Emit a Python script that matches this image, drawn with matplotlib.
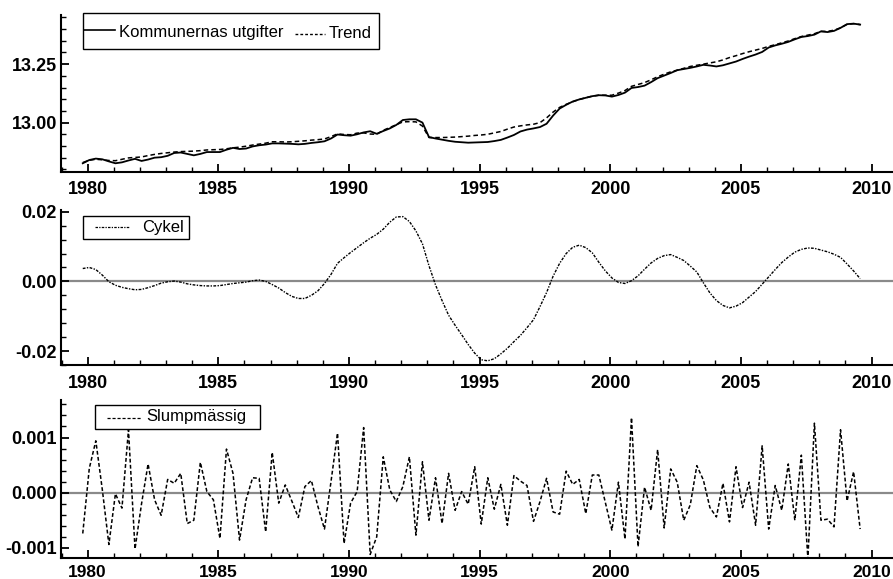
import numpy as np
import matplotlib
matplotlib.use("Agg")
import matplotlib.pyplot as plt
from matplotlib.ticker import MultipleLocator, FixedLocator, FixedFormatter
from matplotlib.patches import Rectangle
from matplotlib.lines import Line2D

plt.rcParams['font.family'] = ['Liberation Sans', 'DejaVu Sans']
plt.rcParams['axes.unicode_minus'] = False

# kvartalsdata 1980-2009, avlasta fran bilden
forsta_obs = 1979.8125

utgifter = [12.826, 12.840, 12.846, 12.843, 12.834, 12.826, 12.830, 12.838, 12.845, 12.836,
            12.842, 12.850, 12.852, 12.858, 12.870, 12.872, 12.866, 12.860, 12.866, 12.874,
            12.874, 12.874, 12.884, 12.892, 12.887, 12.889, 12.898, 12.903, 12.906, 12.911,
            12.911, 12.910, 12.909, 12.907, 12.909, 12.913, 12.916, 12.920, 12.932, 12.949,
            12.946, 12.944, 12.950, 12.958, 12.963, 12.952, 12.964, 12.975, 12.990, 13.011,
            13.014, 13.014, 13.000, 12.938, 12.932, 12.927, 12.922, 12.918, 12.916, 12.914,
            12.915, 12.916, 12.917, 12.921, 12.926, 12.936, 12.947, 12.962, 12.970, 12.975,
            12.981, 12.995, 13.030, 13.060, 13.076, 13.090, 13.099, 13.106, 13.113, 13.117,
            13.116, 13.111, 13.118, 13.128, 13.148, 13.152, 13.158, 13.173, 13.190, 13.201,
            13.212, 13.224, 13.229, 13.234, 13.240, 13.247, 13.244, 13.240, 13.245, 13.253,
            13.261, 13.272, 13.282, 13.291, 13.302, 13.321, 13.330, 13.337, 13.345, 13.356,
            13.366, 13.370, 13.376, 13.390, 13.387, 13.392, 13.405, 13.421, 13.423, 13.419]

trend = [12.829, 12.839, 12.843, 12.841, 12.838, 12.837, 12.843, 12.849, 12.851, 12.853,
         12.859, 12.864, 12.868, 12.871, 12.874, 12.876, 12.877, 12.878, 12.880, 12.883,
         12.884, 12.885, 12.888, 12.892, 12.895, 12.899, 12.904, 12.908, 12.912, 12.918,
         12.918, 12.917, 12.918, 12.920, 12.922, 12.925, 12.927, 12.930, 12.940, 12.952,
         12.949, 12.948, 12.955, 12.956, 12.951, 12.950, 12.967, 12.979, 12.991, 13.003,
         13.004, 13.003, 12.985, 12.936, 12.936, 12.936, 12.937, 12.938, 12.940, 12.942,
         12.945, 12.947, 12.950, 12.956, 12.962, 12.972, 12.981, 12.986, 12.990, 12.993,
         13.000, 13.020, 13.045, 13.065, 13.078, 13.089, 13.099, 13.106, 13.113, 13.117,
         13.117, 13.117, 13.126, 13.137, 13.155, 13.163, 13.171, 13.183, 13.196, 13.207,
         13.217, 13.224, 13.232, 13.240, 13.245, 13.250, 13.255, 13.260, 13.268, 13.278,
         13.286, 13.295, 13.303, 13.310, 13.317, 13.326, 13.333, 13.341, 13.349, 13.359,
         13.368, 13.374, 13.380, 13.390, 13.390, 13.395, 13.405, 13.420, 13.423, 13.419]

cykel = [0.0037, 0.0040, 0.0034, 0.0018, -0.0001, -0.0011, -0.0017, -0.0021, -0.0024, -0.0023,
         -0.0018, -0.0012, -0.0005, -0.0001, 0.0001, -0.0002, -0.0007, -0.0010, -0.0012, -0.0013,
         -0.0013, -0.0012, -0.0009, -0.0006, -0.0004, -0.0002, 0.0002, 0.0004, 0.0000, -0.0009,
         -0.0019, -0.0032, -0.0043, -0.0049, -0.0049, -0.0040, -0.0027, -0.0006, 0.0020, 0.0052,
         0.0068, 0.0083, 0.0097, 0.0111, 0.0124, 0.0135, 0.0150, 0.0170, 0.0185, 0.0186,
         0.0172, 0.0145, 0.0108, 0.0045, -0.0010, -0.0055, -0.0097, -0.0126, -0.0153, -0.0181,
         -0.0206, -0.0225, -0.0228, -0.0222, -0.0208, -0.0192, -0.0173, -0.0155, -0.0133, -0.0110,
         -0.0072, -0.0032, 0.0015, 0.0052, 0.0080, 0.0098, 0.0104, 0.0097, 0.0082, 0.0055,
         0.0030, 0.0010, -0.0003, -0.0006, 0.0002, 0.0016, 0.0035, 0.0053, 0.0066, 0.0074,
         0.0077, 0.0069, 0.0060, 0.0044, 0.0027, -0.0004, -0.0033, -0.0055, -0.0069, -0.0076,
         -0.0071, -0.0061, -0.0045, -0.0029, -0.0008, 0.0013, 0.0034, 0.0054, 0.0070, 0.0084,
         0.0092, 0.0096, 0.0095, 0.0090, 0.0085, 0.0078, 0.0069, 0.0050, 0.0030, 0.0008]

slump = [-0.00074, 0.00044, 0.00094, 0.00005, -0.00094, -0.00002, -0.00028, 0.00114, -0.00102, -0.00020,
         0.00052, -0.00013, -0.00041, 0.00024, 0.00017, 0.00035, -0.00056, -0.00050, 0.00055, 0.00002,
         -0.00013, -0.00083, 0.00079, 0.00035, -0.00086, -0.00013, 0.00027, 0.00026, -0.00071, 0.00073,
         -0.00019, 0.00014, -0.00015, -0.00045, 0.00011, 0.00022, -0.00025, -0.00066, 0.00020, 0.00108,
         -0.00092, -0.00019, 0.00002, 0.00118, -0.00112, -0.00080, 0.00065, 0.00005, -0.00016, 0.00011,
         0.00065, -0.00077, 0.00056, -0.00050, 0.00027, -0.00056, 0.00035, -0.00032, 0.00002, -0.00021,
         0.00047, -0.00057, 0.00027, -0.00030, 0.00015, -0.00059, 0.00031, 0.00021, 0.00013, -0.00052,
         -0.00016, 0.00026, -0.00035, -0.00039, 0.00039, 0.00015, 0.00024, -0.00038, 0.00032, 0.00032,
         -0.00018, -0.00068, 0.00019, -0.00084, 0.00136, -0.00098, 0.00010, -0.00032, 0.00078, -0.00064,
         0.00043, 0.00019, -0.00050, -0.00022, 0.00049, 0.00023, -0.00027, -0.00044, 0.00017, -0.00053,
         0.00047, -0.00027, 0.00019, -0.00059, 0.00085, -0.00066, 0.00013, -0.00032, 0.00052, -0.00050,
         0.00068, -0.00120, 0.00126, -0.00050, -0.00048, -0.00062, 0.00114, -0.00015, 0.00038, -0.00066]

t = forsta_obs + np.arange(len(utgifter)) / 4.0

W, H = 893, 579
fig = plt.figure(figsize=(W / 100, H / 100), dpi=100)

def px_axes(top, bottom, left=61, right=893):
    # pixelkanter (y fran toppen) -> figurkoordinater
    return fig.add_axes([left / W, 1 - bottom / H, (right - left) / W, (bottom - top) / H])

ax1 = px_axes(15, 171.7)
ax2 = px_axes(210, 365)
ax3 = px_axes(400, 558.3)

ax1.plot(t, utgifter, color='black', lw=1.3)
ax1.plot(t, trend, color='black', lw=1.1, ls=(0, (3, 2)))
ax1.set_ylim(12.79, 13.46)
ax1.yaxis.set_major_locator(FixedLocator([13.0, 13.25]))
ax1.yaxis.set_major_formatter(FixedFormatter(['13.00', '13.25']))
ax1.yaxis.set_minor_locator(MultipleLocator(0.05))

ax2.axhline(0, color='#8a8a8a', lw=1.6, zorder=1)
ax2.plot(t, cykel, color='black', lw=1.0, ls=(0, (2, 1, 1, 1)))
ax2.set_ylim(-0.024, 0.0205)
ax2.yaxis.set_major_locator(FixedLocator([-0.02, 0.0, 0.02]))
ax2.yaxis.set_major_formatter(FixedFormatter(['-0.02', '0.00', '0.02']))
ax2.yaxis.set_minor_locator(MultipleLocator(0.004))

ax3.axhline(0, color='#8a8a8a', lw=1.6, zorder=1)
ax3.plot(t, slump, color='black', lw=1.1, ls=(0, (2.5, 1.5)))
ax3.set_ylim(-0.00119, 0.00168)
ax3.yaxis.set_major_locator(FixedLocator([-0.001, 0.0, 0.001]))
ax3.yaxis.set_major_formatter(FixedFormatter(['-0.001', '0.000', '0.001']))
ax3.yaxis.set_minor_locator(MultipleLocator(0.0002))

for ax in (ax1, ax2, ax3):
    ax.set_xlim(1978.98, 2010.82)
    ax.xaxis.set_major_locator(MultipleLocator(5))
    ax.xaxis.set_minor_locator(MultipleLocator(1))
    ax.spines['top'].set_visible(False)
    ax.spines['right'].set_visible(False)
    ax.spines['left'].set_linewidth(1.5)
    ax.spines['bottom'].set_linewidth(1.5)
    ax.tick_params(which='major', direction='in', length=6, width=1.3)
    ax.tick_params(which='minor', direction='in', length=3.5, width=1.0)
    ax.tick_params(axis='x', which='major', pad=7, labelsize=13)
    ax.tick_params(axis='y', which='major', pad=3, labelsize=13)
    for lab in ax.get_xticklabels() + ax.get_yticklabels():
        lab.set_fontweight('bold')
    ax.patch.set_alpha(0)

# nedersta panelen ligger nara kanten, tatare etiketter
ax3.tick_params(axis='x', which='major', pad=4.5, labelsize=12.5)

# egna legendrutor, i pixlar
def fx(x):
    return x / W

def fy(y):
    return 1 - y / H

def key_box(x0, y0, x1, y1, entries):
    fig.add_artist(Rectangle((fx(x0), fy(y1)), fx(x1) - fx(x0), fy(y0) - fy(y1),
                             transform=fig.transFigure, facecolor='white',
                             edgecolor='black', lw=1.0, zorder=5))
    for hx0, hx1, hy, ls, lw, label, tx, ty in entries:
        fig.add_artist(Line2D([fx(hx0), fx(hx1)], [fy(hy), fy(hy)], transform=fig.transFigure,
                              color='black', ls=ls, lw=lw, zorder=6))
        fig.text(fx(tx), fy(ty), label, fontsize=12, va='center', ha='left', zorder=6)

key_box(83, 12.7, 379, 49,
        [(84, 115, 30, '-', 1.2, 'Kommunernas utgifter', 119, 32.5),
         (295, 325, 34, (0, (2, 1.5)), 1.0, 'Trend', 329, 33)])
key_box(83, 215.7, 189, 239,
        [(95, 130, 227.3, (0, (2, 1, 1, 1)), 0.9, 'Cykel', 142, 227.5)])
key_box(95, 405, 260, 429,
        [(107, 142, 418.3, (0, (2.5, 1.5)), 0.9, 'Slumpmässig', 146, 417)])

fig.savefig('out.png', dpi=100)
